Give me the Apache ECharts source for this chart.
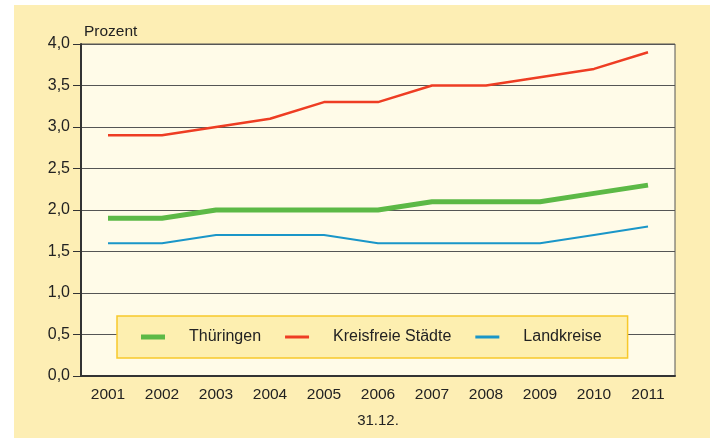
<!DOCTYPE html>
<html>
<head>
<meta charset="utf-8">
<script src="https://cdn.jsdelivr.net/npm/echarts@6/dist/echarts.min.js"></script>
<style>
  html, body { margin: 0; padding: 0; background: #fff; }
  #main { width: 710px; height: 438px; }
</style>
</head>
<body>
<div id="main"></div>
<script>
const years = ["2001", "2002", "2003", "2004", "2005", "2006", "2007", "2008", "2009", "2010", "2011"];
const thueringen = [1.9, 1.9, 2.0, 2.0, 2.0, 2.0, 2.1, 2.1, 2.1, 2.2, 2.3];
const kreisfreie = [2.9, 2.9, 3.0, 3.1, 3.3, 3.3, 3.5, 3.5, 3.6, 3.7, 3.9];
const landkreise = [1.6, 1.6, 1.7, 1.7, 1.7, 1.6, 1.6, 1.6, 1.6, 1.7, 1.8];

const font = "'Liberation Sans', Arial, sans-serif";
const chart = echarts.init(document.getElementById("main"));

const option = {
  backgroundColor: "#ffffff",
  animation: false,
  graphic: [
    // gelber Rahmen
    { type: "rect", z: -10, shape: { x: 14, y: 5, width: 696, height: 433 }, style: { fill: "#fdeeb4" } }
  ],
  grid: {
    left: 81, right: 35, top: 44, bottom: 62,
    show: true,
    backgroundColor: "#fffbe8",
    borderColor: "#555",
    borderWidth: 1
  },
  legend: {
    left: 117, top: 316,
    padding: [13, 26, 13, 24],
    backgroundColor: "#fdefb0",
    borderColor: "#f8c92a",
    borderWidth: 1.5,
    itemWidth: 24, itemHeight: 16,
    itemGap: 24,
    itemStyle: { borderWidth: 0 },
    textStyle: { fontFamily: font, fontSize: 16, color: "#222", padding: [0, 0, 0, 19] },
    data: [
      { name: "Thüringen", icon: "path://M0,0H24V5H0Z" },
      { name: "Kreisfreie Städte", icon: "path://M0,0H24V3H0Z" },
      { name: "Landkreise", icon: "path://M0,0H24V3H0Z" }
    ]
  },
  xAxis: {
    type: "category",
    data: years,
    boundaryGap: true,
    name: "31.12.",
    nameLocation: "middle",
    nameGap: 37,
    nameTextStyle: { fontFamily: font, fontSize: 15, color: "#222" },
    axisLine: { lineStyle: { color: "#333", width: 2 } },
    axisTick: { show: false },
    axisLabel: { fontFamily: font, fontSize: 15.5, color: "#222", margin: 11 }
  },
  yAxis: {
    type: "value",
    min: 0, max: 4, interval: 0.5,
    name: "Prozent",
    nameLocation: "end",
    nameGap: 4,
    nameTextStyle: { fontFamily: font, fontSize: 15.5, color: "#222", align: "left", padding: [0, 0, 0, 3] },
    axisLine: { show: true, lineStyle: { color: "#333", width: 2 } },
    axisTick: { show: true, length: 8, lineStyle: { color: "#333", width: 1 } },
    axisLabel: {
      fontFamily: font, fontSize: 16, color: "#222", margin: 11,
      formatter: v => v.toFixed(1).replace(".", ",")
    },
    splitLine: { lineStyle: { color: "#555", width: 1 } }
  },
  series: [
    { name: "Thüringen", type: "line", data: thueringen, color: "#5cb946", showSymbol: false, lineStyle: { width: 5 }, z: 3 },
    { name: "Kreisfreie Städte", type: "line", data: kreisfreie, color: "#ee3d23", showSymbol: false, lineStyle: { width: 2.5 }, z: 2 },
    { name: "Landkreise", type: "line", data: landkreise, color: "#1a96c8", showSymbol: false, lineStyle: { width: 2 }, z: 2 }
  ]
};

chart.setOption(option);
</script>
</body>
</html>
